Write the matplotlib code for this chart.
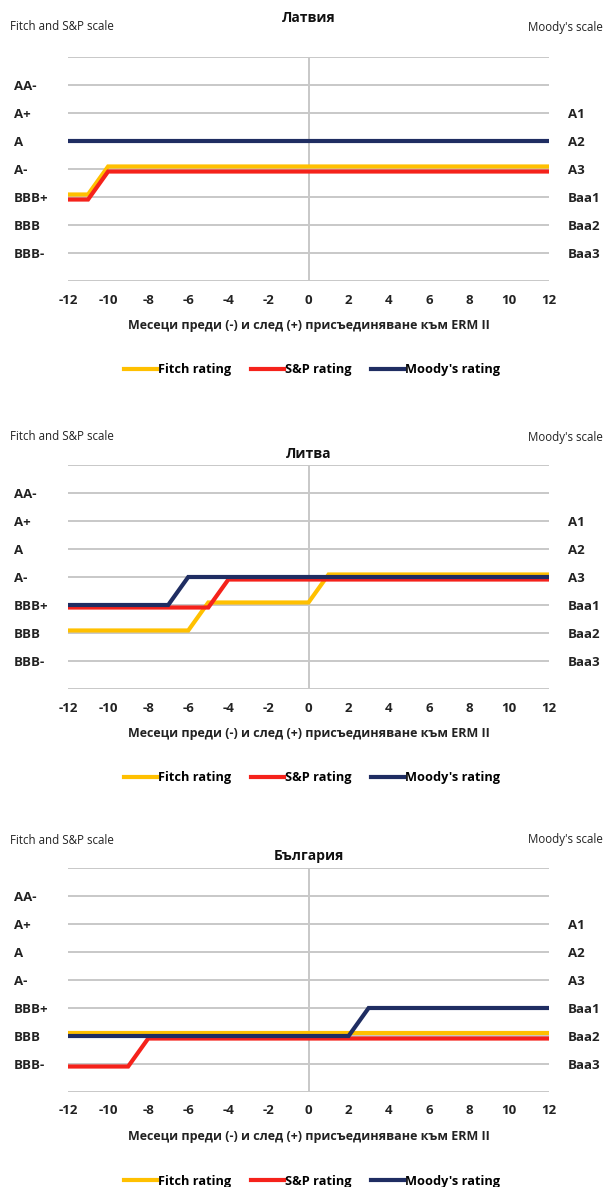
import matplotlib
matplotlib.use("Agg")
import matplotlib.pyplot as plt
from matplotlib.lines import Line2D

# ---------------------------------------------------------------- data
months = list(range(-12, 13))

# Rating ladders, lowest to highest (index = vertical position)
fitch_sp_scale = ["BB+", "BBB-", "BBB", "BBB+", "A-", "A", "A+", "AA-", "AA"]
moodys_scale = ["Ba1", "Baa3", "Baa2", "Baa1", "A3", "A2", "A1", "Aa3", "Aa2"]

left_tick_labels = ["", "BBB-", "BBB", "BBB+", "A-", "A", "A+", "AA-", ""]
right_tick_labels = ["", "Baa3", "Baa2", "Baa1", "A3", "A2", "A1", "", ""]
x_tick_labels = ["-12", "-10", "-8", "-6", "-4", "-2", "0",
                 "2", "4", "6", "8", "10", "12"]

titles = ["Латвия", "Литва", "България"]
series_names = ["Fitch rating", "S&P rating", "Moody's rating"]
x_label = "Месеци преди (-) и след (+) присъединяване към ERM II"

# Latvia, months -12 .. 12
lv_fitch = ["BBB+", "BBB+", "A-", "A-", "A-", "A-", "A-", "A-", "A-", "A-",
            "A-", "A-", "A-", "A-", "A-", "A-", "A-", "A-", "A-", "A-",
            "A-", "A-", "A-", "A-", "A-"]
lv_sp = ["BBB+", "BBB+", "A-", "A-", "A-", "A-", "A-", "A-", "A-", "A-",
         "A-", "A-", "A-", "A-", "A-", "A-", "A-", "A-", "A-", "A-",
         "A-", "A-", "A-", "A-", "A-"]
lv_moodys = ["A2", "A2", "A2", "A2", "A2", "A2", "A2", "A2", "A2", "A2",
             "A2", "A2", "A2", "A2", "A2", "A2", "A2", "A2", "A2", "A2",
             "A2", "A2", "A2", "A2", "A2"]

# Lithuania
lt_fitch = ["BBB", "BBB", "BBB", "BBB", "BBB", "BBB", "BBB", "BBB+", "BBB+", "BBB+",
            "BBB+", "BBB+", "BBB+", "A-", "A-", "A-", "A-", "A-", "A-", "A-",
            "A-", "A-", "A-", "A-", "A-"]
lt_sp = ["BBB+", "BBB+", "BBB+", "BBB+", "BBB+", "BBB+", "BBB+", "BBB+", "A-", "A-",
         "A-", "A-", "A-", "A-", "A-", "A-", "A-", "A-", "A-", "A-",
         "A-", "A-", "A-", "A-", "A-"]
lt_moodys = ["Baa1", "Baa1", "Baa1", "Baa1", "Baa1", "Baa1", "A3", "A3", "A3", "A3",
             "A3", "A3", "A3", "A3", "A3", "A3", "A3", "A3", "A3", "A3",
             "A3", "A3", "A3", "A3", "A3"]

# Bulgaria
bg_fitch = ["BBB", "BBB", "BBB", "BBB", "BBB", "BBB", "BBB", "BBB", "BBB", "BBB",
            "BBB", "BBB", "BBB", "BBB", "BBB", "BBB", "BBB", "BBB", "BBB", "BBB",
            "BBB", "BBB", "BBB", "BBB", "BBB"]
bg_sp = ["BBB-", "BBB-", "BBB-", "BBB-", "BBB", "BBB", "BBB", "BBB", "BBB", "BBB",
         "BBB", "BBB", "BBB", "BBB", "BBB", "BBB", "BBB", "BBB", "BBB", "BBB",
         "BBB", "BBB", "BBB", "BBB", "BBB"]
bg_moodys = ["Baa2", "Baa2", "Baa2", "Baa2", "Baa2", "Baa2", "Baa2", "Baa2", "Baa2", "Baa2",
             "Baa2", "Baa2", "Baa2", "Baa2", "Baa2", "Baa1", "Baa1", "Baa1", "Baa1", "Baa1",
             "Baa1", "Baa1", "Baa1", "Baa1", "Baa1"]

panels = [
    (titles[0], lv_fitch, lv_sp, lv_moodys),
    (titles[1], lt_fitch, lt_sp, lt_moodys),
    (titles[2], bg_fitch, bg_sp, bg_moodys),
]

# ---------------------------------------------------------------- style
W, H = 606, 1187
FIG_DPI = 100
plt.rcParams["font.family"] = ["Open Sans", "DejaVu Sans"]

COL_FITCH = "#FFC000"
COL_SP = "#F5221B"
COL_MOODYS = "#1F2D62"
GRID = "#C8C8C8"
TEXT = "#222222"

# small vertical nudges so coincident ratings stay visible side by side
NUDGE = {"fitch": 0.09, "sp": -0.09, "moodys": 0.0}

AX_LEFT, AX_RIGHT = 68, 549
AX_H = 224
panel_tops = [57, 465, 868]
title_y = [18, 454, 856]
scale_y = [27, 437, 840]


def fx(px):
    return px / W


def fy(py):
    return 1 - py / H


fig = plt.figure(figsize=(W / FIG_DPI, H / FIG_DPI), dpi=FIG_DPI)

for i, (title, f_vals, s_vals, m_vals) in enumerate(panels):
    top = panel_tops[i]
    ax = fig.add_axes([fx(AX_LEFT), fy(top + AX_H), (AX_RIGHT - AX_LEFT) / W, AX_H / H])
    ax.set_xlim(-12, 12)
    ax.set_ylim(0, len(fitch_sp_scale) - 1)
    for sp in ax.spines.values():
        sp.set_visible(False)

    for lvl in range(len(fitch_sp_scale)):
        ax.axhline(lvl, color=GRID, lw=1.4, zorder=1)
    ax.axvline(0, color=GRID, lw=1.4, zorder=1)

    fy_vals = [fitch_sp_scale.index(v) + NUDGE["fitch"] for v in f_vals]
    sy_vals = [fitch_sp_scale.index(v) + NUDGE["sp"] for v in s_vals]
    my_vals = [moodys_scale.index(v) + NUDGE["moodys"] for v in m_vals]
    kw = dict(lw=3.0, solid_joinstyle="miter", solid_capstyle="butt")
    ax.plot(months, fy_vals, color=COL_FITCH, zorder=3, **kw)
    ax.plot(months, sy_vals, color=COL_SP, zorder=4, **kw)
    ax.plot(months, my_vals, color=COL_MOODYS, zorder=5, **kw)

    ax.set_xticks(list(range(-12, 13, 2)))
    ax.set_xticklabels(x_tick_labels, fontsize=9.5, fontweight="bold", color=TEXT)
    ax.set_yticks(list(range(len(fitch_sp_scale))))
    ax.set_yticklabels(left_tick_labels, fontsize=9.5, fontweight="bold", color=TEXT)
    for lab in ax.get_yticklabels():
        lab.set_horizontalalignment("left")
    ax.tick_params(axis="both", length=0)
    ax.tick_params(axis="y", pad=39)
    ax.tick_params(axis="x", pad=9)

    axr = ax.twinx()
    axr.set_ylim(ax.get_ylim())
    axr.set_yticks(list(range(len(moodys_scale))))
    axr.set_yticklabels(right_tick_labels, fontsize=9.5, fontweight="bold", color=TEXT)
    axr.tick_params(axis="y", length=0, pad=13.5)
    for sp in axr.spines.values():
        sp.set_visible(False)

    ax.set_xlabel(x_label, fontsize=9, fontweight="bold", color=TEXT)
    ax.xaxis.set_label_coords(0.5, -(45 - 7) / AX_H)

    fig.text(fx((AX_LEFT + AX_RIGHT) / 2), fy(title_y[i]), title, ha="center", va="center",
             fontsize=10, fontweight="bold", color="#111111")
    fig.text(fx(10), fy(scale_y[i]), "Fitch and S&P scale", ha="left", va="center",
             fontsize=8.3, color=TEXT)
    fig.text(fx(603), fy(scale_y[i]), "Moody's scale", ha="right", va="center",
             fontsize=8.3, color=TEXT)

    handles = [Line2D([], [], color=c, lw=3) for c in (COL_FITCH, COL_SP, COL_MOODYS)]
    fig.legend(handles, series_names, loc="center",
               bbox_to_anchor=(fx(312), fy(top + AX_H + 89)), ncol=3, frameon=False,
               handlelength=2.6, handletextpad=0.1, columnspacing=1.5,
               prop={"weight": "bold", "size": 9.2})

fig.savefig("out.png", dpi=FIG_DPI)
